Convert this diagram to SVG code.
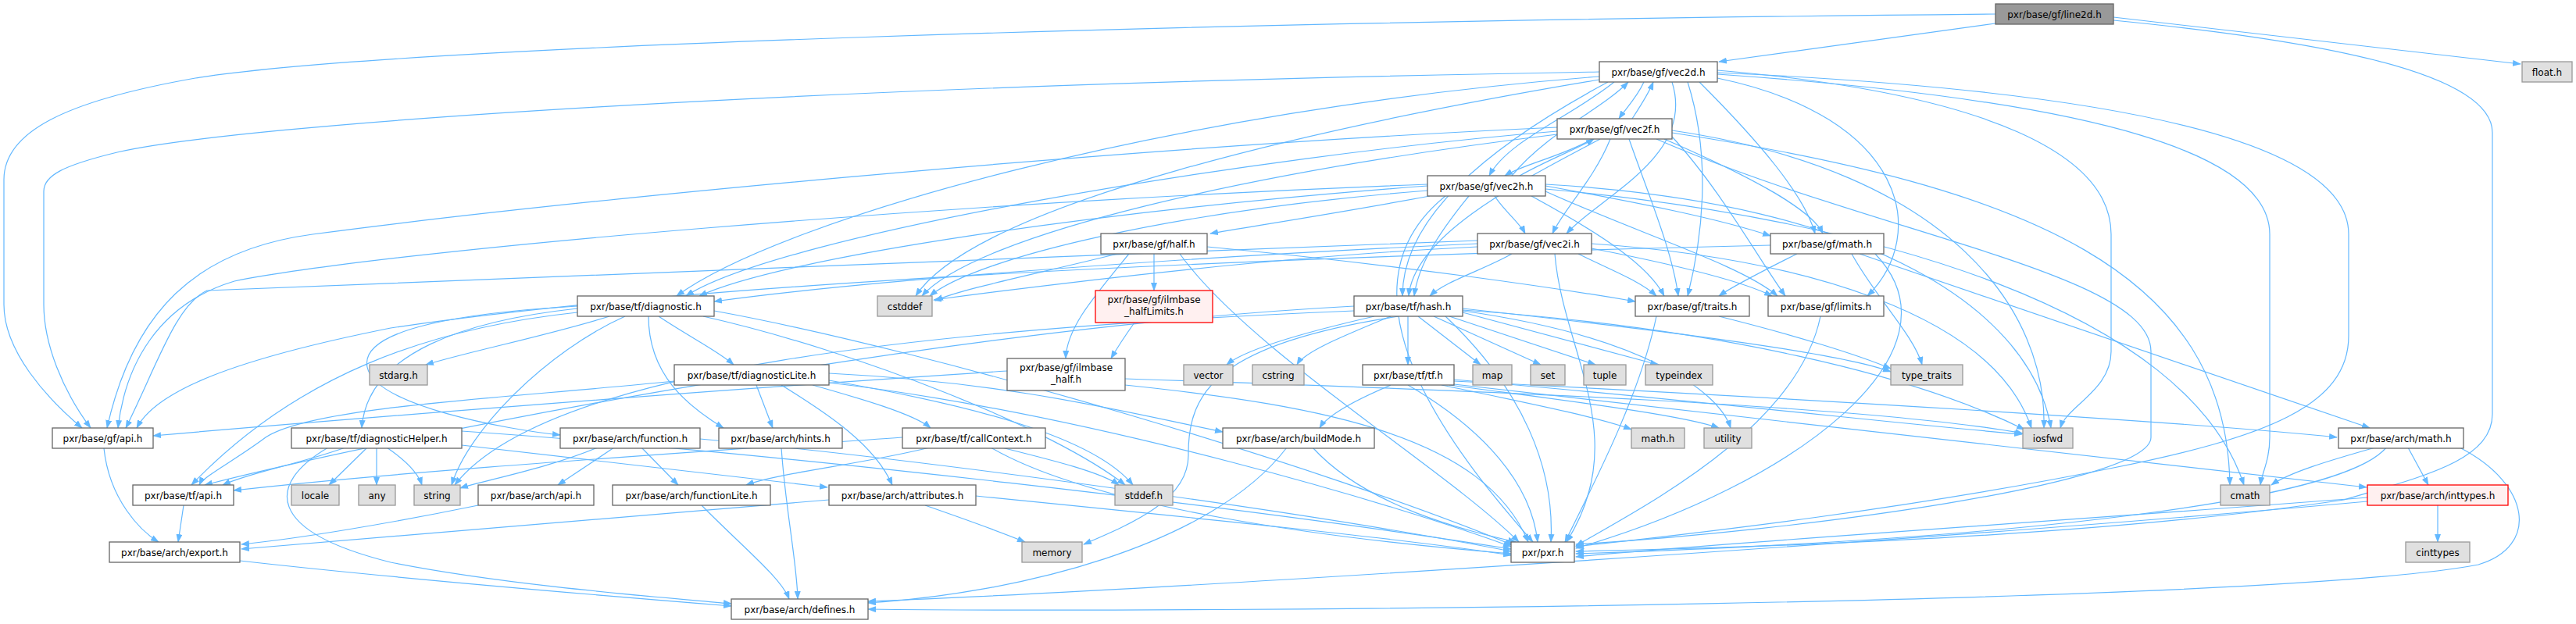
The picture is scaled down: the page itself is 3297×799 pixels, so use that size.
<svg xmlns="http://www.w3.org/2000/svg" width="3297" height="799" viewBox="0 0 3297 799">
<style>
.n rect{fill:#ffffff;stroke:#666666;stroke-width:1.3}
.ext rect{fill:#e0e0e0;stroke:#999999;stroke-width:1.3}
.red rect{fill:#fff0f0;stroke:#ff0000;stroke-width:1.3}
.root rect{fill:#999999;stroke:#666666;stroke-width:1.3}
text{font-family:"DejaVu Sans","Liberation Sans",sans-serif;font-size:12px;fill:#000;text-anchor:middle}
#edges path{fill:none;stroke:#63b8ff;stroke-width:1.2;marker-end:url(#a)}
</style>
<defs>
<marker id="a" markerWidth="11" markerHeight="8" refX="10" refY="4" orient="auto" markerUnits="userSpaceOnUse"><path d="M0,0 L11,4 L0,8 z" fill="#63b8ff"/></marker>
</defs>
<rect width="3297" height="799" fill="#ffffff"/>
<g id="edges">
<path d="M2554,30 L2200,79"/>
<path d="M2705,22 L3226,82"/>
<path d="M2705,26 C2950,50 3190,90 3190,170 L3190,530 C3190,590 3100,610 3000,640 C2700,685 2300,700 2017,706"/>
<path d="M2554,18 C1500,28 500,60 250,100 C80,130 5,170 5,230 L5,390 C5,450 60,510 105,548"/>
<path d="M2104,105 C2095,125 2080,140 2072,152"/>
<path d="M2066,105 C2010,150 1930,180 1906,225"/>
<path d="M2140,105 C2170,200 2050,250 2005,299"/>
<path d="M2058,105 C1900,190 1795,280 1795,379"/>
<path d="M2047,98 C1500,140 1000,280 866,379"/>
<path d="M2047,102 C1700,160 1250,260 1172,379"/>
<path d="M2175,105 C2250,180 2310,250 2323,299"/>
<path d="M2160,105 C2190,200 2180,300 2160,379"/>
<path d="M2198,100 C2440,150 2470,300 2390,379"/>
<path d="M2198,95 C2700,130 2905,200 2905,300 L2905,560 C2905,590 2895,605 2893,621"/>
<path d="M2198,90 C2550,120 2702,200 2702,300 L2702,450 C2702,500 2645,520 2637,548"/>
<path d="M2198,93 C2800,120 3006,200 3006,300 L3006,430 C3006,520 2900,560 2700,600 C2400,660 2100,690 2017,700"/>
<path d="M2047,92 C1000,110 300,160 150,195 C80,212 56,225 56,245 L56,390 C56,440 80,500 116,548"/>
<path d="M2089,152 C2100,135 2110,120 2116,105"/>
<path d="M2038,178 C2000,200 1950,210 1926,225"/>
<path d="M2061,178 C2040,230 2000,270 1987,299"/>
<path d="M2048,178 C1950,230 1810,300 1803,379"/>
<path d="M1993,168 C1600,200 1000,300 878,379"/>
<path d="M1993,172 C1600,220 1250,300 1180,379"/>
<path d="M2130,178 C2250,230 2320,270 2333,299"/>
<path d="M2085,178 C2110,250 2140,320 2148,379"/>
<path d="M2140,175 C2200,240 2250,330 2285,379"/>
<path d="M2140,170 C2600,240 2850,350 2854,621"/>
<path d="M2140,167 C2500,220 2620,400 2616,548"/>
<path d="M2120,178 C2400,300 2753,350 2753,450 L2753,560 C2753,620 2300,680 2017,697"/>
<path d="M1993,163 C1400,190 700,260 400,300 C250,320 170,400 137,548"/>
<path d="M1935,225 C1980,170 2050,140 2084,105"/>
<path d="M1945,225 C1980,205 2020,190 2040,178"/>
<path d="M1913,251 C1925,270 1945,285 1952,299"/>
<path d="M1880,251 C1840,300 1815,340 1810,379"/>
<path d="M1830,251 C1700,275 1600,290 1549,299"/>
<path d="M1827,238 C1400,270 1000,330 895,379"/>
<path d="M1827,244 C1500,270 1250,330 1190,379"/>
<path d="M1978,238 C2100,260 2200,280 2266,302"/>
<path d="M1960,251 C2050,300 2110,340 2130,379"/>
<path d="M1978,245 C2100,300 2230,340 2275,379"/>
<path d="M1978,242 C2400,280 2800,400 2872,621"/>
<path d="M1978,236 C2400,260 2600,400 2625,548"/>
<path d="M1850,251 C1690,380 1880,600 1962,694"/>
<path d="M1827,236 C1200,260 500,320 300,360 C200,390 160,470 151,548"/>
<path d="M1935,325 C1900,345 1850,360 1830,379"/>
<path d="M1891,312 C1500,330 1100,360 914,386"/>
<path d="M1891,316 C1600,330 1300,370 1195,384"/>
<path d="M2020,325 C2060,345 2100,360 2120,379"/>
<path d="M2037,318 C2150,340 2230,360 2268,379"/>
<path d="M2037,312 C2300,330 2550,400 2600,548"/>
<path d="M1990,325 C2000,450 2090,560 2005,694"/>
<path d="M1891,308 C1300,330 600,360 265,372 C225,390 200,470 161,548"/>
<path d="M1477,325 L1477,372"/>
<path d="M1445,325 C1400,380 1365,420 1364,459"/>
<path d="M1545,316 C1800,340 2000,370 2093,386"/>
<path d="M1430,325 C1330,350 1230,370 1197,385"/>
<path d="M1510,325 C1600,450 1850,600 1944,694"/>
<path d="M1452,413 C1440,430 1430,445 1422,459"/>
<path d="M1289,475 C900,500 400,540 196,558"/>
<path d="M1440,493 C1700,520 1900,560 1956,694"/>
<path d="M1440,485 C1900,500 2400,520 2589,555"/>
<path d="M2300,325 C2260,345 2220,365 2200,379"/>
<path d="M2266,314 C1600,330 900,360 500,420 C300,460 200,500 175,548"/>
<path d="M2380,325 L3033,548"/>
<path d="M2370,325 C2400,380 2450,430 2460,467"/>
<path d="M2400,325 C2520,450 2300,620 2017,702"/>
<path d="M2200,405 C2300,430 2380,455 2420,472"/>
<path d="M2120,405 C2100,500 2050,600 2003,694"/>
<path d="M2330,405 C2300,550 2100,650 2017,699"/>
<path d="M780,405 C700,430 600,450 545,467"/>
<path d="M843,405 C880,430 920,450 939,467"/>
<path d="M739,395 C600,410 470,450 463,548"/>
<path d="M739,400 C550,420 380,480 245,621"/>
<path d="M739,392 C600,400 460,420 470,470 C480,520 650,550 717,557"/>
<path d="M830,405 C830,480 880,520 926,548"/>
<path d="M800,405 C700,450 600,550 578,621"/>
<path d="M914,398 C1200,450 1700,600 1936,698"/>
<path d="M900,405 C1100,450 1350,550 1440,621"/>
<path d="M863,488 C650,510 400,520 340,560 C300,590 260,610 255,621"/>
<path d="M968,493 L989,548"/>
<path d="M1040,493 C1100,510 1170,530 1191,548"/>
<path d="M1000,493 C1060,530 1120,570 1142,621"/>
<path d="M1061,478 C1300,490 1450,530 1565,553"/>
<path d="M1061,487 C1250,520 1400,560 1450,621"/>
<path d="M1061,490 C1400,530 1800,650 1934,700"/>
<path d="M442,573 C380,595 320,605 285,621"/>
<path d="M470,573 L421,621"/>
<path d="M482,573 L482,621"/>
<path d="M495,573 C520,590 535,605 540,621"/>
<path d="M420,573 C340,620 340,680 500,720 C650,750 850,765 936,773"/>
<path d="M591,552 C1000,580 1600,650 1934,703"/>
<path d="M591,570 L1059,624"/>
<path d="M765,573 C700,600 620,615 589,625"/>
<path d="M786,573 L714,621"/>
<path d="M821,573 L868,621"/>
<path d="M896,562 C1200,590 1700,660 1934,706"/>
<path d="M1000,573 C1005,650 1020,720 1021,767"/>
<path d="M1155,560 C800,585 500,605 299,628"/>
<path d="M1190,573 C1100,595 1000,605 955,621"/>
<path d="M1282,573 C1350,590 1410,605 1432,621"/>
<path d="M1268,573 C1400,650 1700,690 1934,709"/>
<path d="M1647,573 C1550,700 1300,760 1111,772"/>
<path d="M1680,573 C1750,650 1880,680 1940,694"/>
<path d="M1780,493 C1740,510 1700,530 1689,548"/>
<path d="M1845,493 C1950,515 2050,535 2088,550"/>
<path d="M1855,493 C1980,510 2150,530 2200,548"/>
<path d="M1861,488 C2300,510 2800,540 2991,560"/>
<path d="M1861,492 L3029,624"/>
<path d="M1802,493 C1900,550 1960,620 1968,694"/>
<path d="M1861,486 C2200,515 2450,545 2588,556"/>
<path d="M1759,405 C1650,430 1590,450 1570,467"/>
<path d="M1780,405 C1720,430 1670,450 1660,467"/>
<path d="M1802,405 L1802,467"/>
<path d="M1815,405 L1895,467"/>
<path d="M1835,405 L1972,467"/>
<path d="M1855,405 L2042,467"/>
<path d="M1872,400 L2122,467"/>
<path d="M1872,395 C2100,420 2350,450 2420,476"/>
<path d="M1872,398 C2100,430 2200,500 2215,548"/>
<path d="M1872,397 C2200,420 2450,480 2591,550"/>
<path d="M1790,405 C1560,440 1520,500 1521,583 C1521,640 1450,670 1387,697"/>
<path d="M1733,398 C1200,420 700,470 582,621"/>
<path d="M1733,392 C1200,420 500,560 262,621"/>
<path d="M1850,405 C1950,500 1990,600 1985,694"/>
<path d="M1061,640 L309,703"/>
<path d="M1184,647 C1250,670 1290,685 1312,694"/>
<path d="M1249,635 C1500,660 1800,690 1934,711"/>
<path d="M612,647 C500,670 380,690 309,697"/>
<path d="M235,647 L228,694"/>
<path d="M133,574 C140,640 180,680 203,694"/>
<path d="M307,718 C500,740 800,765 936,776"/>
<path d="M898,647 C950,700 1000,740 1010,767"/>
<path d="M3040,573 C2980,590 2930,605 2907,621"/>
<path d="M3082,573 L3108,621"/>
<path d="M3054,573 C3000,640 2600,690 2017,709"/>
<path d="M3148,573 C3240,620 3250,700 3172,723 C2900,775 1500,785 1111,780"/>
<path d="M3120,647 L3120,694"/>
<path d="M3030,637 C2600,670 2200,695 2017,713"/>
<path d="M3030,642 C2500,690 1500,755 1111,770"/>
</g>
<g id="line2d" class="root"><rect x="2554" y="5" width="151" height="26"/><text x="2629.5" y="22.5">pxr/base/gf/line2d.h</text></g>
<g id="vec2d" class="n"><rect x="2047" y="79" width="151" height="26"/><text x="2122.5" y="96.5">pxr/base/gf/vec2d.h</text></g>
<g id="float" class="ext"><rect x="3228" y="79" width="64" height="26"/><text x="3260" y="96.5">float.h</text></g>
<g id="vec2f" class="n"><rect x="1993" y="152" width="147" height="26"/><text x="2066.5" y="169.5">pxr/base/gf/vec2f.h</text></g>
<g id="vec2h" class="n"><rect x="1827" y="225" width="151" height="26"/><text x="1902.5" y="242.5">pxr/base/gf/vec2h.h</text></g>
<g id="half" class="n"><rect x="1409" y="299" width="136" height="26"/><text x="1477" y="316.5">pxr/base/gf/half.h</text></g>
<g id="vec2i" class="n"><rect x="1891" y="299" width="146" height="26"/><text x="1964" y="316.5">pxr/base/gf/vec2i.h</text></g>
<g id="gfmath" class="n"><rect x="2266" y="299" width="145" height="26"/><text x="2338.5" y="316.5">pxr/base/gf/math.h</text></g>
<g id="diagnostic" class="n"><rect x="739" y="379" width="175" height="26"/><text x="826.5" y="396.5">pxr/base/tf/diagnostic.h</text></g>
<g id="cstddef" class="ext"><rect x="1123" y="379" width="70" height="26"/><text x="1158" y="396.5">cstddef</text></g>
<g id="halfLimits" class="red"><rect x="1402" y="372" width="150" height="41"/><text x="1477" y="388">pxr/base/gf/ilmbase</text><text x="1477" y="403">_halfLimits.h</text></g>
<g id="hash" class="n"><rect x="1733" y="379" width="139" height="26"/><text x="1802.5" y="396.5">pxr/base/tf/hash.h</text></g>
<g id="traits" class="n"><rect x="2093" y="379" width="146" height="26"/><text x="2166" y="396.5">pxr/base/gf/traits.h</text></g>
<g id="limits" class="n"><rect x="2263" y="379" width="148" height="26"/><text x="2337" y="396.5">pxr/base/gf/limits.h</text></g>
<g id="stdarg" class="ext"><rect x="473" y="467" width="74" height="26"/><text x="510" y="484.5">stdarg.h</text></g>
<g id="diagnosticLite" class="n"><rect x="863" y="467" width="198" height="26"/><text x="962" y="484.5">pxr/base/tf/diagnosticLite.h</text></g>
<g id="ilmhalf" class="n"><rect x="1289" y="459" width="151" height="41"/><text x="1364.5" y="475">pxr/base/gf/ilmbase</text><text x="1364.5" y="490">_half.h</text></g>
<g id="vector" class="ext"><rect x="1515" y="467" width="63" height="26"/><text x="1546.5" y="484.5">vector</text></g>
<g id="cstring" class="ext"><rect x="1603" y="467" width="66" height="26"/><text x="1636" y="484.5">cstring</text></g>
<g id="tf" class="n"><rect x="1744" y="467" width="117" height="26"/><text x="1802.5" y="484.5">pxr/base/tf/tf.h</text></g>
<g id="map" class="ext"><rect x="1885" y="467" width="50" height="26"/><text x="1910" y="484.5">map</text></g>
<g id="set" class="ext"><rect x="1959" y="467" width="44" height="26"/><text x="1981" y="484.5">set</text></g>
<g id="tuple" class="ext"><rect x="2027" y="467" width="54" height="26"/><text x="2054" y="484.5">tuple</text></g>
<g id="typeindex" class="ext"><rect x="2106" y="467" width="86" height="26"/><text x="2149" y="484.5">typeindex</text></g>
<g id="type_traits" class="ext"><rect x="2420" y="467" width="92" height="26"/><text x="2466" y="484.5">type_traits</text></g>
<g id="gfapi" class="n"><rect x="67" y="548" width="129" height="26"/><text x="131.5" y="565.5">pxr/base/gf/api.h</text></g>
<g id="diagnosticHelper" class="n"><rect x="373" y="548" width="218" height="26"/><text x="482" y="565.5">pxr/base/tf/diagnosticHelper.h</text></g>
<g id="function" class="n"><rect x="717" y="548" width="179" height="26"/><text x="806.5" y="565.5">pxr/base/arch/function.h</text></g>
<g id="hints" class="n"><rect x="920" y="548" width="158" height="26"/><text x="999" y="565.5">pxr/base/arch/hints.h</text></g>
<g id="callContext" class="n"><rect x="1155" y="548" width="183" height="26"/><text x="1246.5" y="565.5">pxr/base/tf/callContext.h</text></g>
<g id="buildMode" class="n"><rect x="1565" y="548" width="194" height="26"/><text x="1662" y="565.5">pxr/base/arch/buildMode.h</text></g>
<g id="mathh" class="ext"><rect x="2088" y="548" width="68" height="26"/><text x="2122" y="565.5">math.h</text></g>
<g id="utility" class="ext"><rect x="2181" y="548" width="61" height="26"/><text x="2211.5" y="565.5">utility</text></g>
<g id="iosfwd" class="ext"><rect x="2589" y="548" width="64" height="26"/><text x="2621" y="565.5">iosfwd</text></g>
<g id="archmath" class="n"><rect x="2993" y="548" width="160" height="26"/><text x="3073" y="565.5">pxr/base/arch/math.h</text></g>
<g id="tfapi" class="n"><rect x="170" y="621" width="129" height="26"/><text x="234.5" y="638.5">pxr/base/tf/api.h</text></g>
<g id="locale" class="ext"><rect x="373" y="621" width="61" height="26"/><text x="403.5" y="638.5">locale</text></g>
<g id="any" class="ext"><rect x="459" y="621" width="47" height="26"/><text x="482.5" y="638.5">any</text></g>
<g id="string" class="ext"><rect x="530" y="621" width="59" height="26"/><text x="559.5" y="638.5">string</text></g>
<g id="archapi" class="n"><rect x="612" y="621" width="148" height="26"/><text x="686" y="638.5">pxr/base/arch/api.h</text></g>
<g id="functionLite" class="n"><rect x="784" y="621" width="202" height="26"/><text x="885" y="638.5">pxr/base/arch/functionLite.h</text></g>
<g id="attributes" class="n"><rect x="1061" y="621" width="188" height="26"/><text x="1155" y="638.5">pxr/base/arch/attributes.h</text></g>
<g id="stddef" class="ext"><rect x="1427" y="621" width="74" height="26"/><text x="1464" y="638.5">stddef.h</text></g>
<g id="cmath" class="ext"><rect x="2842" y="621" width="63" height="26"/><text x="2873.5" y="638.5">cmath</text></g>
<g id="inttypes" class="red"><rect x="3030" y="621" width="180" height="26"/><text x="3120" y="638.5">pxr/base/arch/inttypes.h</text></g>
<g id="export" class="n"><rect x="140" y="694" width="167" height="26"/><text x="223.5" y="711.5">pxr/base/arch/export.h</text></g>
<g id="memory" class="ext"><rect x="1308" y="694" width="77" height="26"/><text x="1346.5" y="711.5">memory</text></g>
<g id="pxr" class="n"><rect x="1934" y="694" width="81" height="26"/><text x="1974.5" y="711.5">pxr/pxr.h</text></g>
<g id="cinttypes" class="ext"><rect x="3079" y="694" width="82" height="26"/><text x="3120" y="711.5">cinttypes</text></g>
<g id="defines" class="n"><rect x="936" y="767" width="175" height="26"/><text x="1023.5" y="784.5">pxr/base/arch/defines.h</text></g>
</svg>
